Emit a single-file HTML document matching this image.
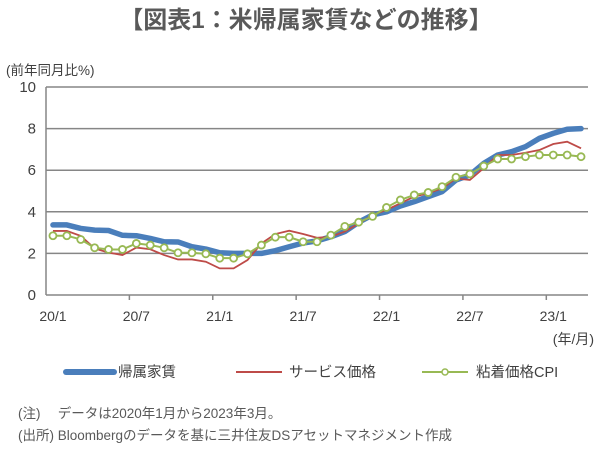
<!DOCTYPE html>
<html><head><meta charset="utf-8"><style>
body{margin:0;width:600px;height:465px;background:#fff;overflow:hidden;font-family:"Liberation Sans","Noto Sans CJK JP",sans-serif;color:#404040}
svg text{font-family:"Liberation Sans","Noto Sans CJK JP",sans-serif}
</style></head><body>
<svg id="c" width="600" height="465">
<text x="306" y="28" text-anchor="middle" font-size="24" font-weight="bold" fill="#595959">【図表1：米帰属家賃などの推移】</text>
<text x="6" y="75" font-size="13.5" fill="#404040">(前年同月比%)</text>
<text x="594" y="344" text-anchor="end" font-size="14" fill="#404040">(年/月)</text>
<g id="grid"></g><g id="axes"></g><g id="series"></g>
<g>
<g><line x1="66" y1="372" x2="114" y2="372" stroke="#4a7ebb" stroke-width="6" stroke-linecap="round"/><text x="118" y="377" font-size="14.5" fill="#404040">帰属家賃</text></g>
<g><line x1="236" y1="372" x2="282" y2="372" stroke="#be4b48" stroke-width="2"/><text x="289" y="377" font-size="14.5" fill="#404040">サービス価格</text></g>
<g><line x1="422" y1="372" x2="468" y2="372" stroke="#98b954" stroke-width="2"/><circle cx="445" cy="372" r="3" fill="#fff" stroke="#98b954" stroke-width="1.5"/><text x="476" y="377" font-size="14.5" fill="#404040">粘着価格CPI</text></g>
</g>
<text x="18" y="418" font-size="13.5" fill="#595959">(注)　 データは2020年1月から2023年3月。</text>
<text x="18" y="440" font-size="13.5" fill="#595959">(出所)  Bloombergのデータを基に三井住友DSアセットマネジメント作成</text>
</svg>
<script>
const yTicks=[0,2,4,6,8,10];
const xTickLabels=["20/1","20/7","21/1","21/7","22/1","22/7","23/1"];
const imputedRent=[3.37,3.37,3.2,3.12,3.1,2.87,2.85,2.72,2.56,2.55,2.32,2.21,2.03,2.0,2.0,2.0,2.13,2.32,2.5,2.6,2.8,3.05,3.5,3.85,4.0,4.28,4.49,4.73,4.97,5.53,5.77,6.33,6.73,6.89,7.13,7.53,7.77,7.97,8.0];
const services=[3.08,3.08,2.84,2.24,2.04,1.92,2.28,2.2,1.92,1.71,1.71,1.6,1.28,1.28,1.68,2.48,2.93,3.09,2.93,2.75,2.8,3.05,3.43,3.85,4.09,4.41,4.73,4.89,5.13,5.6,5.53,6.1,6.73,6.73,6.84,6.97,7.26,7.37,7.05];
const stickyCpi=[2.85,2.85,2.67,2.27,2.19,2.19,2.48,2.4,2.27,2.03,2.03,1.98,1.77,1.77,1.98,2.4,2.78,2.78,2.56,2.56,2.88,3.3,3.5,3.78,4.21,4.57,4.81,4.93,5.21,5.66,5.82,6.2,6.54,6.54,6.65,6.73,6.73,6.73,6.65];
const NS='http://www.w3.org/2000/svg';
const L=46,R=588,T=87,B=295,N=imputedRent.length,ymax=10;
const step=(R-L)/N;
function xs(i){return L+step*(i+0.5);}
function ys(v){return B-(v/ymax)*(B-T);}
function mk(tag,attrs,parent){const e=document.createElementNS(NS,tag);for(const k in attrs)e.setAttribute(k,attrs[k]);parent.appendChild(e);return e;}
const grid=document.getElementById('grid'),axes=document.getElementById('axes'),ser=document.getElementById('series');
yTicks.forEach(v=>{
  if(v>0){const g=mk('line',{x1:L,x2:R,y1:ys(v),y2:ys(v),stroke:'#868686','stroke-width':1.5},grid);
  
  }
  const t=mk('text',{x:36,y:ys(v)+5,'text-anchor':'end','font-size':15,fill:'#404040'},axes);
  t.textContent=v;
  
  
});
const ya=mk('line',{x1:L,x2:L,y1:T,y2:B,stroke:'#868686','stroke-width':1.5},axes);


const xa=mk('line',{x1:L,x2:R,y1:B,y2:B,stroke:'#868686','stroke-width':1.5},axes);


xTickLabels.forEach((lab,k)=>{
  const i=k*6;
  if(k>0){const tk=mk('line',{x1:L+step*i,x2:L+step*i,y1:B,y2:B+5,stroke:'#868686','stroke-width':1.5},axes);
  
  }
  const t=mk('text',{x:xs(i),y:321,'text-anchor':'middle','font-size':14,fill:'#404040'},axes);
  t.textContent=lab;
  
  
});
function pts(a){return a.map((v,i)=>xs(i)+','+ys(v)).join(' ');}
const p1=mk('polyline',{points:pts(imputedRent),fill:'none',stroke:'#4a7ebb','stroke-width':5.5,'stroke-linejoin':'round','stroke-linecap':'round'},ser);


const p2=mk('polyline',{points:pts(services),fill:'none',stroke:'#be4b48','stroke-width':1.8},ser);


const p3=mk('polyline',{points:pts(stickyCpi),fill:'none',stroke:'#98b954','stroke-width':2},ser);


stickyCpi.forEach((v,i)=>{
  const c=mk('circle',{cx:xs(i),cy:ys(v),r:3.5,fill:'#fff',stroke:'#98b954','stroke-width':1.8},ser);
  
  
});
</script>
</body></html>
